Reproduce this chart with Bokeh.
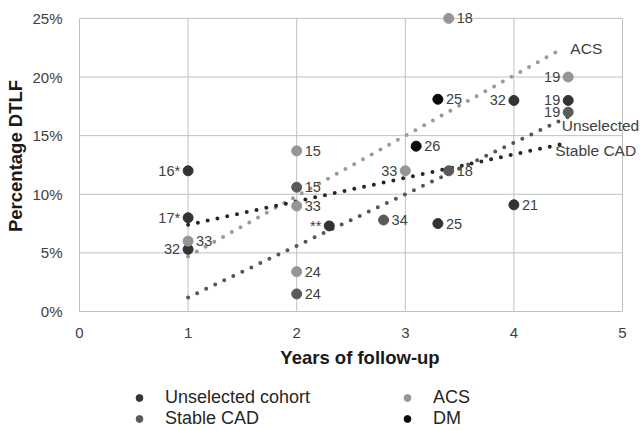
from bokeh.plotting import figure
from bokeh.layouts import column
from bokeh.models import (ColumnDataSource, Range1d, FixedTicker, Legend, LegendItem,
                          LabelSet, Label, NumeralTickFormatter)
from bokeh.core.properties import value
from bokeh.embed import file_html
from bokeh.resources import INLINE

# ---- data ----
groups = ["Unselected cohort", "Stable CAD", "ACS", "DM"]

unsel_x = [1, 1, 1, 2.3, 3.3, 4, 4, 4.5]
unsel_y = [12.0, 8.0, 5.3, 7.3, 7.5, 18.0, 9.1, 18.0]
unsel_lbl = ["16*", "17*", "32", "**", "25", "32", "21", "19"]

stable_x = [2, 2, 2.8, 3.4, 4.5]
stable_y = [10.6, 1.5, 7.8, 12.0, 17.0]
stable_lbl = ["15", "24", "34", "18", "19"]

acs_x = [1, 2, 2, 2, 3, 3.4, 4.5]
acs_y = [6.0, 13.7, 9.0, 3.4, 12.0, 25.0, 20.0]
acs_lbl = ["33", "15", "33", "24", "33", "18", "19"]

dm_x = [3.3, 3.1]
dm_y = [18.1, 14.1]
dm_lbl = ["25", "26"]

# trend lines (end points)
trend_names = ["ACS", "Unselected", "Stable CAD"]
trend_acs_x = [1, 4.45]
trend_acs_y = [4.7, 22.45]
trend_stable_x = [1, 4.5]
trend_stable_y = [1.2, 16.6]
trend_unsel_x = [1, 4.5]
trend_unsel_y = [7.4, 14.4]
trend_label_x = [4.52, 4.44, 4.38]
trend_label_y = [22.45, 15.85, 13.7]

x_ticks = [0, 1, 2, 3, 4, 5]
y_ticks = [0, 5, 10, 15, 20, 25]

# ---- styles ----
# label side per point: "L" = label to the left, "R" = label to the right
unsel_side = ["L", "L", "L", "L", "R", "L", "R", "L"]
stable_side = ["R", "R", "R", "R", "L"]
acs_side = ["R", "R", "R", "R", "L", "R", "L"]
dm_side = ["R", "R"]

col = {"Unselected cohort": "#333333", "Stable CAD": "#5a5a5a", "ACS": "#959595", "DM": "#0a0a0a"}
FONT = "Liberation Sans"
TXT = "#404040"
GRID = "#c0c0c0"

XMAX, YMAX = x_ticks[-1], y_ticks[-1]
# frame extends a little beyond the plotted area so that outside labels are not clipped
p = figure(width=640, height=370, output_backend="svg", toolbar_location=None,
           x_range=Range1d(0, XMAX * 561 / 543), y_range=Range1d(0, YMAX * 313 / 295),
           min_border_left=79, min_border_right=0, min_border_top=0, min_border_bottom=57)
p.background_fill_color = "white"
p.border_fill_color = "white"
p.outline_line_color = None
p.grid.visible = False

p.xaxis.ticker = FixedTicker(ticks=x_ticks)
p.yaxis.ticker = FixedTicker(ticks=y_ticks)
p.xaxis.bounds = (0, XMAX)
p.yaxis.bounds = (0, YMAX)
p.yaxis.formatter = NumeralTickFormatter(format="0")
p.yaxis.major_label_overrides = {t: f"{t}%" for t in y_ticks}
for ax in (p.xaxis, p.yaxis):
    ax.axis_line_color = GRID
    ax.major_tick_line_color = None
    ax.minor_tick_line_color = None
    ax.major_label_text_font = FONT
    ax.major_label_text_font_size = "15px"
    ax.major_label_text_color = TXT
    ax.axis_label_text_font = FONT
    ax.axis_label_text_font_size = "18.5px"
    ax.axis_label_text_font_style = "bold"
    ax.axis_label_text_color = "#1a1a1a"
p.xaxis.axis_label = "Years of follow-up"
p.yaxis.axis_label = "Percentage DTLF"
p.xaxis.major_label_standoff = 10
p.yaxis.major_label_standoff = 11
p.xaxis.axis_label_standoff = 6
p.yaxis.axis_label_standoff = 3

# grid lines within the plotted area
p.segment(x0=x_ticks, y0=[0] * len(x_ticks), x1=x_ticks, y1=[YMAX] * len(x_ticks),
          line_color=GRID, line_width=1, level="underlay")
p.segment(x0=[0] * len(y_ticks), y0=y_ticks, x1=[XMAX] * len(y_ticks), y1=y_ticks,
          line_color=GRID, line_width=1, level="underlay")

# trend lines (round dotted)
for tx, ty, c in [(trend_acs_x, trend_acs_y, "#9a9a9a"),
                  (trend_stable_x, trend_stable_y, "#555555"),
                  (trend_unsel_x, trend_unsel_y, "#262626")]:
    p.line(tx, ty, line_color=c, line_width=4, line_dash="0 10", line_cap="round")

# points
series = [("Unselected cohort", unsel_x, unsel_y, unsel_lbl, unsel_side),
          ("Stable CAD", stable_x, stable_y, stable_lbl, stable_side),
          ("ACS", acs_x, acs_y, acs_lbl, acs_side),
          ("DM", dm_x, dm_y, dm_lbl, dm_side)]
for name, xs, ys, lbls, sides in series:
    p.scatter(xs, ys, size=10, marker="circle", fill_color=col[name], line_color=col[name])
    for side in ("L", "R"):
        idx = [i for i, s in enumerate(sides) if s == side]
        if not idx:
            continue
        src = ColumnDataSource(dict(x=[xs[i] for i in idx], y=[ys[i] for i in idx],
                                    t=[lbls[i] for i in idx]))
        p.add_layout(LabelSet(x="x", y="y", text="t", source=src,
                              x_offset=(-8 if side == "L" else 8),
                              text_align=("right" if side == "L" else "left"),
                              text_baseline="middle", text_font=value(FONT),
                              text_font_size="14.5px", text_color=TXT))

# trend line names
for nm, xx, yy in zip(trend_names, trend_label_x, trend_label_y):
    p.add_layout(Label(x=xx, y=yy, text=nm, text_align="left", text_baseline="middle",
                       text_font=FONT, text_font_size="15.5px", text_color=TXT))

# legend in a separate strip below the chart
pl = figure(width=640, height=60, output_backend="svg", toolbar_location=None,
            x_range=Range1d(-2, -1), y_range=Range1d(-2, -1),
            x_axis_location=None, y_axis_location=None,
            min_border_left=0, min_border_right=0, min_border_top=0, min_border_bottom=0)
pl.grid.visible = False
pl.outline_line_color = None
pl.background_fill_color = "white"
pl.border_fill_color = "white"
rmap = {}
for name, xs, ys, _, _ in series:
    # same data, outside this strip's ranges: only the legend glyph shows
    rmap[name] = pl.scatter(xs, ys, size=9, marker="circle", fill_color=col[name],
                            line_color=col[name])
items = [LegendItem(label=g, renderers=[rmap[g]]) for g in groups]
leg = Legend(items=items, nrows=2, orientation="vertical", location=(50, 1))
leg.label_text_font = FONT
leg.label_text_font_size = "18px"
leg.label_text_color = "#262626"
leg.glyph_width = 20
leg.glyph_height = 17
leg.label_standoff = 16
leg.label_width = 232
leg.spacing = 0
leg.padding = 0
leg.margin = 0
leg.border_line_color = None
leg.background_fill_alpha = 0
pl.add_layout(leg, "center")

open("out.html", "w").write(file_html(column(p, pl, spacing=0), INLINE))
